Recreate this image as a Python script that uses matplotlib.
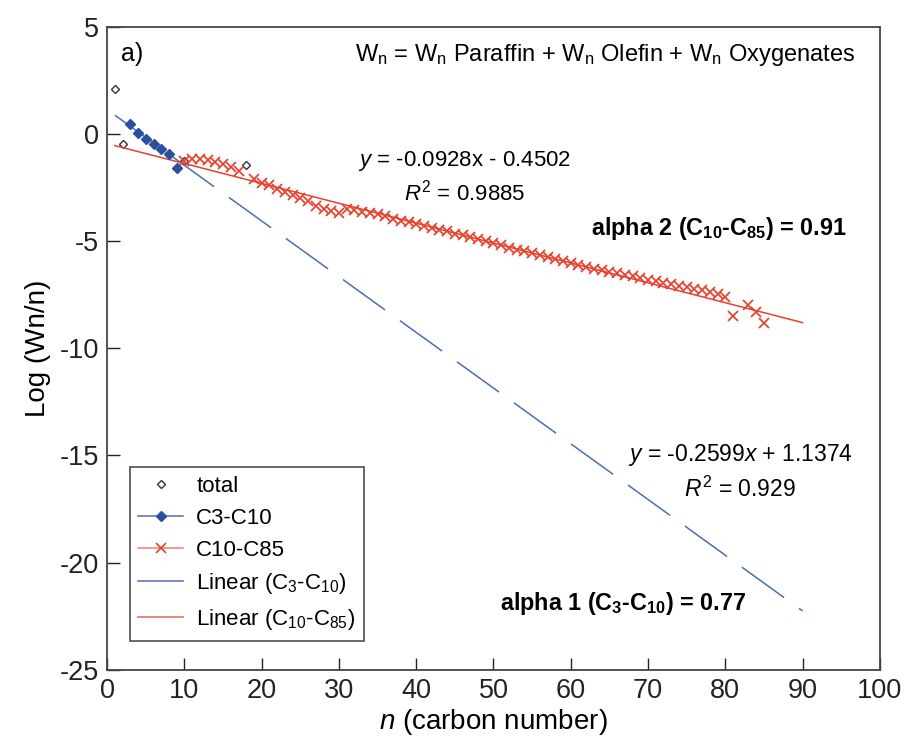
import numpy as np
import matplotlib
matplotlib.use("Agg")
import matplotlib.pyplot as plt
from matplotlib.lines import Line2D

plt.rcParams['font.family'] = ['Liberation Sans', 'DejaVu Sans']
plt.rcParams['mathtext.fontset'] = 'custom'
plt.rcParams['mathtext.rm'] = 'Liberation Sans'
plt.rcParams['mathtext.it'] = 'Liberation Sans:italic'
plt.rcParams['mathtext.bf'] = 'Liberation Sans:bold'
plt.rcParams['axes.unicode_minus'] = False

# ---- data ----
c3_n = [3, 4, 5, 6, 7, 8, 9]
c3_vals = [0.47, 0.05, -0.23, -0.47, -0.70, -0.93, -1.58]

c10_n = [10, 11, 12, 13, 14, 15, 16, 17,
         19, 20, 21, 22, 23, 24, 25, 26, 27, 28, 29, 30,
         31, 32, 33, 34, 35, 36, 37, 38, 39, 40,
         41, 42, 43, 44, 45, 46, 47, 48, 49, 50,
         51, 52, 53, 54, 55, 56, 57, 58, 59, 60,
         61, 62, 63, 64, 65, 66, 67, 68, 69, 70,
         71, 72, 73, 74, 75, 76, 77, 78, 79, 80,
         81, 83, 84, 85]
c10_vals = [-1.25, -1.15, -1.15, -1.2, -1.3, -1.4, -1.55, -1.75,
            -2.1, -2.3, -2.4, -2.55, -2.7, -2.85, -3.0, -3.15, -3.35, -3.5, -3.6, -3.7,
            -3.5, -3.55, -3.65, -3.7, -3.75, -3.85, -3.95, -4.05, -4.12, -4.2,
            -4.3, -4.4, -4.47, -4.55, -4.65, -4.73, -4.82, -4.92, -5.0, -5.1,
            -5.2, -5.3, -5.4, -5.48, -5.57, -5.65, -5.75, -5.85, -5.92, -6.0,
            -6.1, -6.2, -6.28, -6.35, -6.42, -6.5, -6.58, -6.65, -6.72, -6.8,
            -6.87, -6.95, -7.02, -7.08, -7.15, -7.22, -7.3, -7.38, -7.48, -7.6,
            -8.48, -8.0, -8.3, -8.83]

total_n = [1, 2, 10, 18]
total_vals = [2.1, -0.45, -1.25, -1.45]

fit1_slope, fit1_int = -0.2599, 1.1374
fit2_slope, fit2_int = -0.0928, -0.4502
fit_range = [1, 90]

blue_marker = '#2a4f9e'
blue_line = '#4d6db5'
red = '#e8412e'

fig = plt.figure(figsize=(9.08, 7.45), dpi=100)
ax = fig.add_axes([0.118, 0.101, 0.851, 0.863])

ax.plot(total_n, total_vals, linestyle='none', marker='D', markersize=4.2,
        markerfacecolor='white', markeredgecolor='#333333', markeredgewidth=1.0, zorder=2)

xr = np.array(fit_range, dtype=float)
ax.plot(xr, fit1_slope * xr + fit1_int, color=blue_line, lw=1.1,
        linestyle=(0, (34, 12)), zorder=3)
ax.plot(xr, fit2_slope * xr + fit2_int, color=red, lw=1.1, zorder=3)

ax.plot(c10_n, c10_vals, linestyle='none', marker='x', markersize=7.5,
        markeredgewidth=1.25, color=red, zorder=4)
ax.plot(c3_n, c3_vals, linestyle='none', marker='D', markersize=5.5,
        color=blue_marker, zorder=5)

ax.set_xlim(0, 100)
ax.set_ylim(-25, 5)
ax.set_xticks(np.arange(0, 101, 10))
ax.set_yticks(np.arange(-25, 6, 5))
ax.tick_params(direction='in', length=9, width=1.0, labelsize=19.5, pad=6,
               colors='#222222')
for s in ax.spines.values():
    s.set_linewidth(1.3)
    s.set_color('#444444')

ax.set_xlabel(r'$\it{n}$ (carbon number)', fontsize=20, labelpad=2)
ax.set_ylabel('Log (Wn/n)', fontsize=20, labelpad=6)

ax.text(1.8, 3.75, 'a)', fontsize=18, ha='left', va='center')
ax.text(64.5, 3.7,
        r'W$_\mathrm{n}$ = W$_\mathrm{n}$ Paraffin + W$_\mathrm{n}$ Olefin + W$_\mathrm{n}$ Oxygenates',
        fontsize=17, ha='center', va='center')

ax.text(46.3, -1.25, r'$\it{y}$ = -0.0928x - 0.4502', fontsize=16, ha='center', va='center')
ax.text(46.3, -2.75, r'$\it{R}^2$ = 0.9885', fontsize=16, ha='center', va='center')
ax.text(79.2, -4.4, r'alpha 2 (C$_\mathbf{10}$-C$_\mathbf{85}$) = 0.91', fontsize=16.8,
        fontweight='bold', ha='center', va='center')
ax.text(81.9, -15.0, r'$\it{y}$ = -0.2599$\it{x}$ + 1.1374', fontsize=16.5, ha='center', va='center')
ax.text(81.9, -16.6, r'$\it{R}^2$ = 0.929', fontsize=16.5, ha='center', va='center')
ax.text(66.8, -21.9, r'alpha 1 (C$_\mathbf{3}$-C$_\mathbf{10}$) = 0.77', fontsize=16.8,
        fontweight='bold', ha='center', va='center')

handles = [
    Line2D([], [], linestyle='none', marker='D', markersize=4.2, markerfacecolor='white',
           markeredgecolor='#333333', markeredgewidth=1.0),
    Line2D([], [], color=blue_line, lw=1.1, marker='D', markersize=5.5,
           markerfacecolor=blue_marker, markeredgecolor=blue_marker),
    Line2D([], [], color='#f07a6c', lw=1.1, marker='x', markersize=7, markeredgewidth=1.2,
           markeredgecolor=red),
    Line2D([], [], color=blue_line, lw=1.1),
    Line2D([], [], color='#f07a6c', lw=1.3),
]
labels = ['total', 'C3-C10', 'C10-C85', r'Linear (C$_{3}$-C$_{10}$)', r'Linear (C$_{10}$-C$_{85}$)']
leg = ax.legend(handles, labels, loc='lower left', bbox_to_anchor=(0.029, 0.045),
                fontsize=16, frameon=True, fancybox=False, handlelength=2.0,
                handletextpad=0.6, borderpad=0.4, labelspacing=0.48, borderaxespad=0)
leg.get_frame().set_edgecolor('#222222')
leg.get_frame().set_linewidth(1.2)

fig.savefig('out.png', dpi=100)
